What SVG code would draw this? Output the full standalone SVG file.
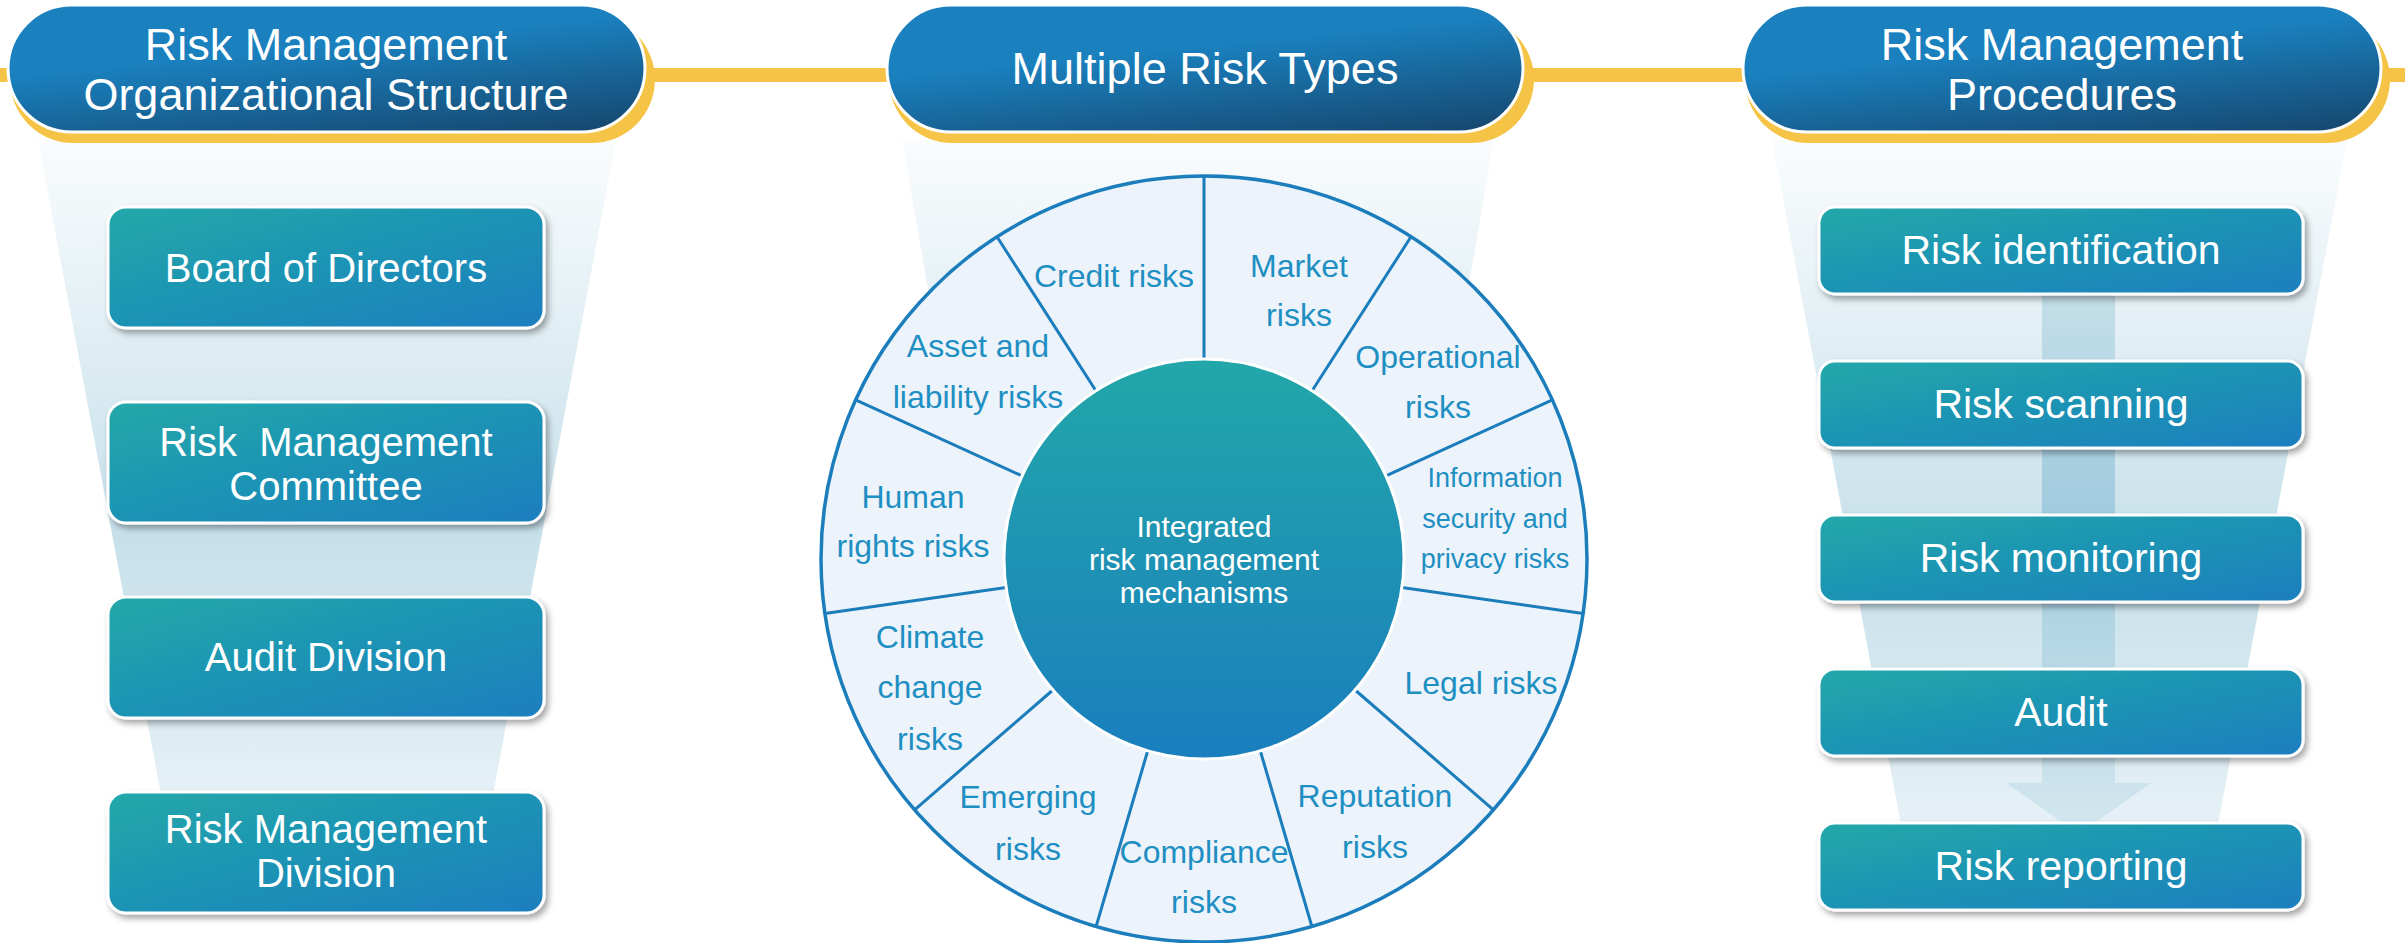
<svg xmlns="http://www.w3.org/2000/svg" width="2405" height="943" viewBox="0 0 2405 943">
<defs>
<linearGradient id="gHead" x1="0.45" y1="0.35" x2="0.8" y2="1.05">
<stop offset="0" stop-color="#1a80be"/><stop offset="1" stop-color="#164870"/>
</linearGradient>
<linearGradient id="gBox" x1="0" y1="0" x2="1" y2="1">
<stop offset="0" stop-color="#22a8a9"/><stop offset="1" stop-color="#1a7ebf"/>
</linearGradient>
<linearGradient id="gFunnel" x1="0" y1="0" x2="0" y2="1">
<stop offset="0" stop-color="#fafcfd"/><stop offset="0.6" stop-color="#c6e0ea"/><stop offset="1" stop-color="#e6f1f6"/>
</linearGradient>
<linearGradient id="gArrow" x1="0" y1="0" x2="0" y2="1">
<stop offset="0" stop-color="#c4dfe9"/><stop offset="0.4" stop-color="#a1cbde"/><stop offset="1" stop-color="#d3e7ef"/>
</linearGradient>
<linearGradient id="gCore" x1="0" y1="0" x2="0" y2="1">
<stop offset="0" stop-color="#22a7a9"/><stop offset="1" stop-color="#1a7ebe"/>
</linearGradient>
<filter id="shadow" x="-10%" y="-10%" width="125%" height="135%">
<feDropShadow dx="3" dy="4" stdDeviation="3" flood-color="#000" flood-opacity="0.35"/>
</filter>
</defs>
<style>
.yel{fill:#f5c447}
.head{fill:url(#gHead);stroke:#fff;stroke-width:3}
.box{fill:url(#gBox);stroke:#fff;stroke-width:3;filter:url(#shadow)}
.funnel{fill:url(#gFunnel)}
.ht{font-family:"Liberation Sans",Arial,sans-serif;font-size:45px;fill:#fff;text-anchor:middle}
.bt{font-family:"Liberation Sans",Arial,sans-serif;font-size:40px;fill:#fff;text-anchor:middle;white-space:pre}
.rt{font-family:"Liberation Sans",Arial,sans-serif;font-size:41px;fill:#fff;text-anchor:middle}
.seg{font-family:"Liberation Sans",Arial,sans-serif;font-size:32px;fill:#1e8fc2;text-anchor:middle}
.segs{font-family:"Liberation Sans",Arial,sans-serif;font-size:27px;fill:#1e8fc2;text-anchor:middle}
.ct{font-family:"Liberation Sans",Arial,sans-serif;font-size:30px;fill:#fff;text-anchor:middle}
.div{stroke:#1b7dbb;stroke-width:3;fill:none}
</style>

<!-- funnels -->
<polygon class="funnel" points="38,140 616,140 492,800 162,800"/>
<polygon class="funnel" points="902,140 1494,140 1379,800 1017,800"/>
<polygon class="funnel" points="1772,140 2347,140 2217,830 1902,830"/>

<g id="connectors">
<rect class="yel" x="0" y="68" width="2405" height="14"/>
<path d="M2042,294 H2115 V783 H2151 L2079,834 L2006,783 H2042 Z" fill="url(#gArrow)"/>
</g>

<!-- headers -->
<g id="header-org">
<rect class="yel" x="10" y="16" width="645" height="127" rx="63.5"/>
<rect class="head" x="8" y="5" width="637" height="127" rx="63.5"/>
<text class="ht" x="326" y="60">Risk Management</text>
<text class="ht" x="326" y="110">Organizational Structure</text>
</g>
<g id="header-types">
<rect class="yel" x="889" y="16" width="645" height="127" rx="63.5"/>
<rect class="head" x="887" y="5" width="636" height="127" rx="63.5"/>
<text class="ht" x="1205" y="84">Multiple Risk Types</text>
</g>
<g id="header-proc">
<rect class="yel" x="1745" y="16" width="645" height="127" rx="63.5"/>
<rect class="head" x="1743" y="5" width="638" height="127" rx="63.5"/>
<text class="ht" x="2062" y="60">Risk Management</text>
<text class="ht" x="2062" y="110">Procedures</text>
</g>

<!-- left column -->
<g id="node-board">
<rect class="box" x="108" y="207" width="436" height="121" rx="18"/>
<text class="bt" x="326" y="282">Board of Directors</text>
</g>
<g id="node-rmc">
<rect class="box" x="108" y="402" width="436" height="121" rx="18"/>
<text class="bt" x="326" y="456">Risk  Management</text>
<text class="bt" x="326" y="500">Committee</text>
</g>
<g id="node-audit-div">
<rect class="box" x="108" y="597" width="436" height="121" rx="18"/>
<text class="bt" x="326" y="671">Audit Division</text>
</g>
<g id="node-rmd">
<rect class="box" x="108" y="792" width="436" height="121" rx="18"/>
<text class="bt" x="326" y="843">Risk Management</text>
<text class="bt" x="326" y="887">Division</text>
</g>

<!-- wheel -->
<g id="risk-wheel">
<circle cx="1204" cy="559" r="383" fill="#edf3fa" stroke="#1b7dbb" stroke-width="3.5"/>
<path class="div" d="M1204,359 L1204,176 M1312.1,390.7 L1411,236.8 M1385.9,475.9 L1552.4,399.9 M1402,587.5 L1583.1,613.5 M1355.1,690 L1493.4,809.8 M1260.3,750.9 L1311.9,926.5 M1147.7,750.9 L1096.1,926.5 M1052.9,690 L914.6,809.8 M1006,587.5 L824.9,613.5 M1022.1,475.9 L855.6,399.9 M1095.9,390.7 L997,236.8"/>
<circle cx="1204" cy="559" r="200" fill="url(#gCore)" stroke="#fff" stroke-width="3"/>
<text class="ct" x="1204" y="537">Integrated</text>
<text class="ct" x="1204" y="570">risk management</text>
<text class="ct" x="1204" y="603">mechanisms</text>
</g>
<g id="seg-credit"><text class="seg" x="1114" y="287">Credit risks</text></g>
<g id="seg-market"><text class="seg" x="1299" y="277">Market</text><text class="seg" x="1299" y="326">risks</text></g>
<g id="seg-operational"><text class="seg" x="1438" y="368">Operational</text><text class="seg" x="1438" y="418">risks</text></g>
<g id="seg-info"><text class="segs" x="1495" y="487">Information</text><text class="segs" x="1495" y="528">security and</text><text class="segs" x="1495" y="568">privacy risks</text></g>
<g id="seg-legal"><text class="seg" x="1481" y="694">Legal risks</text></g>
<g id="seg-reputation"><text class="seg" x="1375" y="807">Reputation</text><text class="seg" x="1375" y="858">risks</text></g>
<g id="seg-compliance"><text class="seg" x="1204" y="863">Compliance</text><text class="seg" x="1204" y="913">risks</text></g>
<g id="seg-emerging"><text class="seg" x="1028" y="808">Emerging</text><text class="seg" x="1028" y="860">risks</text></g>
<g id="seg-climate"><text class="seg" x="930" y="648">Climate</text><text class="seg" x="930" y="698">change</text><text class="seg" x="930" y="750">risks</text></g>
<g id="seg-human"><text class="seg" x="913" y="508">Human</text><text class="seg" x="913" y="557">rights risks</text></g>
<g id="seg-asset"><text class="seg" x="978" y="357">Asset and</text><text class="seg" x="978" y="408">liability risks</text></g>

<!-- right column -->
<g id="node-identification">
<rect class="box" x="1819" y="207" width="484" height="87" rx="16"/>
<text class="rt" x="2061" y="264">Risk identification</text>
</g>
<g id="node-scanning">
<rect class="box" x="1819" y="361" width="484" height="87" rx="16"/>
<text class="rt" x="2061" y="418">Risk scanning</text>
</g>
<g id="node-monitoring">
<rect class="box" x="1819" y="515" width="484" height="87" rx="16"/>
<text class="rt" x="2061" y="572">Risk monitoring</text>
</g>
<g id="node-audit">
<rect class="box" x="1819" y="669" width="484" height="87" rx="16"/>
<text class="rt" x="2061" y="726">Audit</text>
</g>
<g id="node-reporting">
<rect class="box" x="1819" y="823" width="484" height="87" rx="16"/>
<text class="rt" x="2061" y="880">Risk reporting</text>
</g>
</svg>
